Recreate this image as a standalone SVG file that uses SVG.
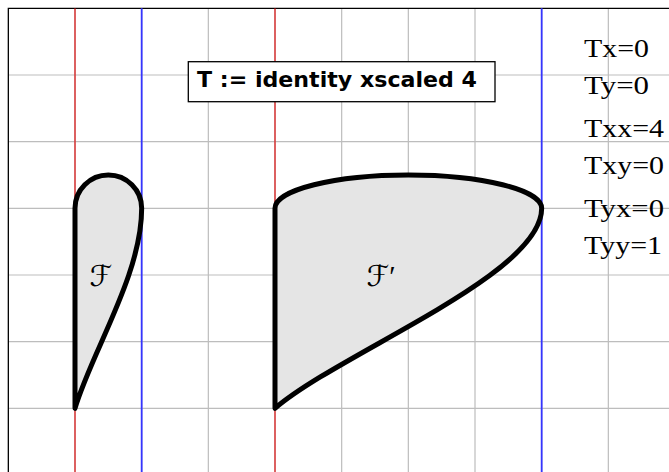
<svg xmlns="http://www.w3.org/2000/svg" width="669" height="472" viewBox="0 0 669 472">
<style>
.grid{stroke:#bdbdbd;stroke-width:1.2;fill:none}
.frame{stroke:#000;stroke-width:1.3;fill:none}
.red{stroke:#e00000;stroke-width:1.1;fill:none}
.blue{stroke:#3535ff;stroke-width:1.8;fill:none}
.shape{fill:#e5e5e5;stroke:#000;stroke-width:5;stroke-linejoin:round;stroke-linecap:round}
.lab{font-family:"Liberation Serif",serif;font-size:26px;fill:#000}
.cal{font-family:"DejaVu Sans","Noto Sans",sans-serif;font-size:29px;fill:#000}
.title{font-family:"DejaVu Sans","Liberation Sans",sans-serif;font-weight:bold;font-size:21px;fill:#000}
</style>
<rect width="669" height="472" fill="#fff"/>
<g id="grid">
<path class="grid" d="M75,8.33V472M141.67,8.33V472M208.33,8.33V472M275,8.33V472M341.67,8.33V472M408.33,8.33V472M475,8.33V472M541.67,8.33V472M608.33,8.33V472"/>
<path class="grid" d="M8.33,75H669M8.33,141.67H669M8.33,208.33H669M8.33,275H669M8.33,341.67H669M8.33,408.33H669"/>
<path class="frame" d="M8.33,472V8.33H669"/>
</g>
<g id="guides">
<path class="red" d="M75,8.33V472M275,8.33V472"/>
<path class="blue" d="M141.67,8.33V472M541.67,8.33V472"/>
</g>
<g id="F">
<path class="shape" d="M75,408.33L75,208.33C75,189.93 89.93,175 108.33,175C126.73,175 141.67,189.93 141.67,208.33C141.67,275 91.67,351.67 75,408.33Z"/>
<text class="cal" x="101" y="286" text-anchor="middle">ℱ</text>
</g>
<g id="Fprime">
<path class="shape" d="M275,408.33L275,208.33C275,189.93 334.73,175 408.33,175C481.93,175 541.67,189.93 541.67,208.33C541.67,275 341.67,351.67 275,408.33Z"/>
<text class="cal" x="381" y="286" text-anchor="middle">ℱ<tspan font-family="Liberation Serif, serif">′</tspan></text>
</g>
<g id="title">
<rect x="188.3" y="61.7" width="306.7" height="40" fill="#fff" stroke="#000" stroke-width="1.3"/>
<text class="title" x="197" y="87" textLength="280" lengthAdjust="spacingAndGlyphs">T := identity xscaled 4</text>
</g>
<g id="params">
<text class="lab" x="584" y="56.7" textLength="65" lengthAdjust="spacingAndGlyphs">Tx=0</text>
<text class="lab" x="584" y="94" textLength="65" lengthAdjust="spacingAndGlyphs">Ty=0</text>
<text class="lab" x="584" y="136.7" textLength="80" lengthAdjust="spacingAndGlyphs">Txx=4</text>
<text class="lab" x="584" y="174" textLength="80" lengthAdjust="spacingAndGlyphs">Txy=0</text>
<text class="lab" x="584" y="216.7" textLength="80" lengthAdjust="spacingAndGlyphs">Tyx=0</text>
<text class="lab" x="584" y="254" textLength="78" lengthAdjust="spacingAndGlyphs">Tyy=1</text>
</g>
</svg>
